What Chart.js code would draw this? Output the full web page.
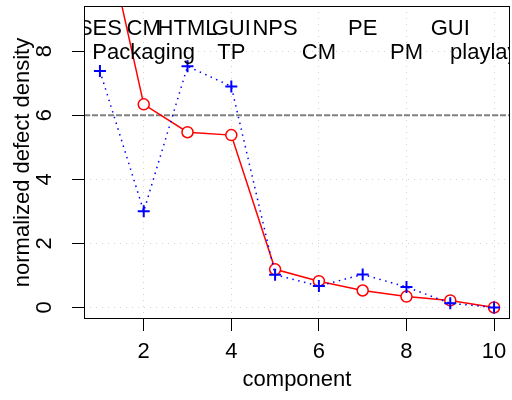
<!DOCTYPE html>
<html>
<head>
<meta charset="utf-8">
<script src="https://cdn.jsdelivr.net/npm/chart.js@4/dist/chart.umd.min.js"></script>
<style>
  body { margin: 0; background: #fff; }
  canvas { display: block; }
</style>
</head>
<body>
<canvas id="myChart" width="512" height="400"></canvas>
<script>
// component index on the x axis
let components = [1, 2, 3, 4, 5, 6, 7, 8, 9, 10];
// red circles (solid line) and blue crosses (dotted line)
let redDensity = [12.5, 6.34, 5.47, 5.38, 1.19, 0.82, 0.53, 0.34, 0.22, 0.0];
let blueDensity = [7.38, 3.0, 7.53, 6.9, 1.02, 0.67, 1.03, 0.64, 0.13, 0.0];
// names written over the points, two rows
let upperNames = ["SES", "CM", "HTML", "GUI", "NPS", "", "PE", "", "GUI", ""];
let lowerNames = ["", "Packaging", "", "TP", "", "CM", "", "PM", "", "playlayer"];
let upperRowY = 8.7;
let lowerRowY = 7.95;
let refLineY = 6;
// tick labels
let xTicks = [2, 4, 6, 8, 10];
let yTicks = [0, 2, 4, 6, 8];

const FONT = "'Liberation Sans', Arial, sans-serif";
Chart.defaults.font.family = FONT;
Chart.defaults.font.size = 22;
Chart.defaults.color = "#000";

const toPoints = (vals) => components.map((c, i) => ({ x: c, y: vals[i] }));

const boxAndLines = {
  id: "boxAndLines",
  beforeDatasetsDraw(chart) {
    const { ctx, chartArea: a, scales } = chart;
    const y = scales.y.getPixelForValue(refLineY);
    ctx.save();
    ctx.strokeStyle = "#808080";
    ctx.lineWidth = 2;
    ctx.setLineDash([6, 2]);
    ctx.beginPath();
    ctx.moveTo(a.left, y);
    ctx.lineTo(a.right, y);
    ctx.stroke();
    ctx.restore();
  },
  afterDatasetsDraw(chart) {
    const { ctx, chartArea: a, scales } = chart;
    ctx.save();
    ctx.beginPath();
    ctx.rect(a.left, a.top, a.right - a.left, a.bottom - a.top);
    ctx.clip();
    ctx.font = "22px " + FONT;
    ctx.fillStyle = "#000";
    ctx.textAlign = "center";
    ctx.textBaseline = "middle";
    components.forEach((c, i) => {
      const x = scales.x.getPixelForValue(c);
      if (upperNames[i]) ctx.fillText(upperNames[i], x, scales.y.getPixelForValue(upperRowY));
      if (lowerNames[i]) ctx.fillText(lowerNames[i], x, scales.y.getPixelForValue(lowerRowY));
    });
    ctx.restore();
    ctx.save();
    ctx.strokeStyle = "#000";
    ctx.lineWidth = 1;
    ctx.strokeRect(a.left + 0.5, a.top + 0.5, a.right - a.left - 1, a.bottom - a.top - 1);
    ctx.restore();
  },
};

let ctx = document.getElementById("myChart").getContext("2d");
let myChart = new Chart(ctx, {
  type: "line",
  data: {
    datasets: [
      {
        data: toPoints(blueDensity),
        borderColor: "#0000ff",
        borderWidth: 1.5,
        borderDash: [1.5, 4.5],
        pointStyle: "cross",
        pointRadius: 6,
        pointBorderWidth: 2,
        pointBorderColor: "#0000ff",
        fill: false,
      },
      {
        data: toPoints(redDensity),
        borderColor: "#ff0000",
        borderWidth: 1.5,
        pointStyle: "circle",
        pointRadius: 5.5,
        pointBorderWidth: 1.5,
        pointBorderColor: "#ff0000",
        pointBackgroundColor: "#fff",
        fill: false,
      },
    ],
  },
  options: {
    responsive: false,
    animation: false,
    layout: { autoPadding: false, padding: { top: 6, right: 2, left: 0, bottom: 0 } },
    plugins: {
      legend: { display: false },
      tooltip: { enabled: false },
    },
    scales: {
      x: {
        type: "linear",
        min: 0.636,
        max: 10.364,
        afterBuildTicks: (s) => { s.ticks = xTicks.map((v) => ({ value: v })); },
        afterFit: (s) => { s.height = 81; s.paddingLeft = 0; s.paddingRight = 0; },
        ticks: { padding: 8, maxRotation: 0, autoSkip: false },
        grid: { color: "#d3d3d3", tickColor: "#000", tickLength: 12, tickBorderDash: [] },
        border: { display: false, dash: [1, 5] },
        title: { display: true, text: "component", padding: { top: 0, bottom: 7 } },
      },
      y: {
        min: -0.36,
        max: 9.41,
        afterBuildTicks: (s) => { s.ticks = yTicks.map((v) => ({ value: v })); },
        afterFit: (s) => { s.width = 84; s.paddingTop = 0; s.paddingBottom = 0; },
        ticks: { padding: 21, minRotation: 90, maxRotation: 90, crossAlign: "center", autoSkip: false },
        grid: { color: "#d3d3d3", tickColor: "#000", tickLength: 12, tickBorderDash: [] },
        border: { display: false, dash: [1, 5] },
        title: { display: true, text: "normalized defect density", padding: { top: 10, bottom: 0 } },
      },
    },
  },
  plugins: [boxAndLines],
});
</script>
</body>
</html>
